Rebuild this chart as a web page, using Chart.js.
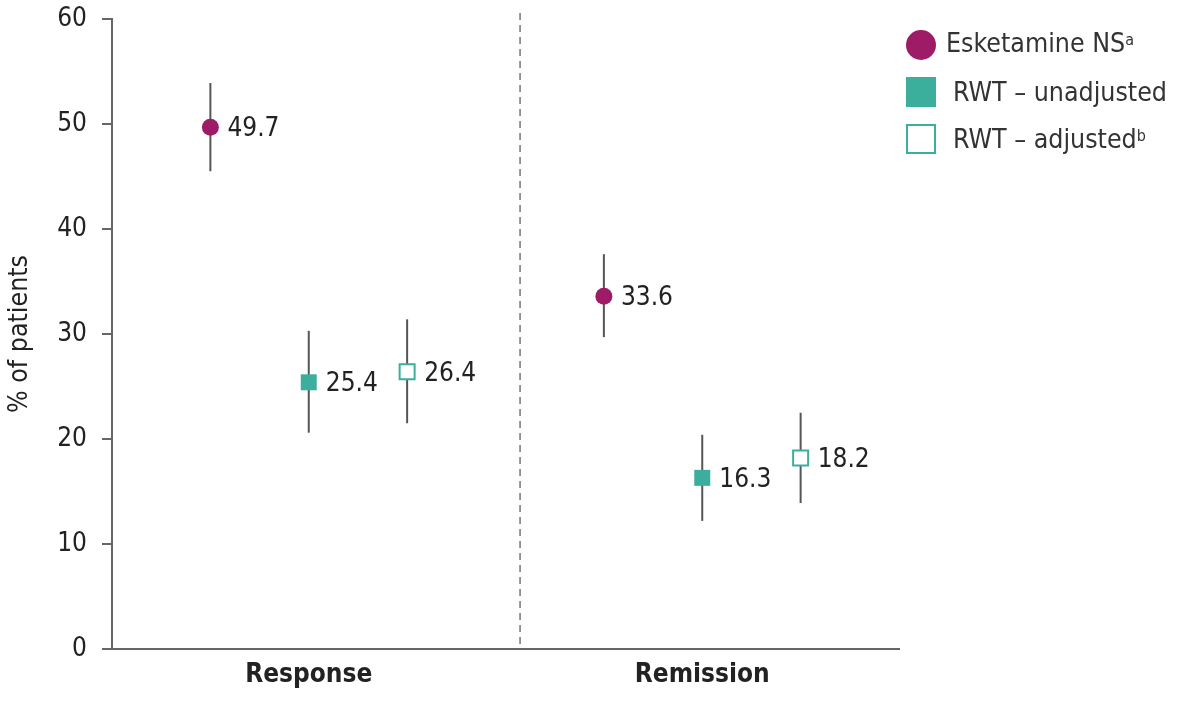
<!DOCTYPE html>
<html>
<head>
<meta charset="utf-8">
<script src="https://cdn.jsdelivr.net/npm/chart.js@4.4.0/dist/chart.umd.min.js"></script>
<style>
  html, body { margin: 0; padding: 0; background: #fff; }
  #wrap { position: relative; width: 1181px; height: 704px; }
  #legend { position: absolute; left: 0; top: 0; font-family: "DejaVu Sans Condensed", "DejaVu Sans", sans-serif; font-size: 26.5px; color: #333; }
  .item { position: absolute; white-space: nowrap; line-height: 30px; }
  .item sup { font-size: 16px; vertical-align: 7px; line-height: 0; }
  .mk { position: absolute; box-sizing: border-box; }
</style>
</head>
<body>
<div id="wrap">
  <canvas id="chart" width="1181" height="704"></canvas>
  <div id="legend">
    <div class="mk" style="left:906px; top:30px; width:30px; height:30px; border-radius:50%; background:#9e1b67;"></div>
    <div class="item" style="left:946px; top:28px;">Esketamine NS<sup>a</sup></div>
    <div class="mk" style="left:906px; top:77px; width:30px; height:30px; background:#3bae9c;"></div>
    <div class="item" style="left:953px; top:77px;">RWT – unadjusted</div>
    <div class="mk" style="left:906px; top:124px; width:30px; height:30px; border:2px solid #3bae9c; background:#fff;"></div>
    <div class="item" style="left:953px; top:124px;">RWT – adjusted<sup>b</sup></div>
  </div>
</div>
<script>
// Datos
const categories = ["Response", "Remission"];
const esketamine = [49.7, 33.6];
const esketamineLow = [45.5, 29.7];
const esketamineHigh = [53.9, 37.6];
const rwtUnadj = [25.4, 16.3];
const rwtUnadjLow = [20.6, 12.2];
const rwtUnadjHigh = [30.3, 20.4];
const rwtAdj = [26.4, 18.2];
const rwtAdjLow = [21.5, 13.9];
const rwtAdjHigh = [31.4, 22.5];
const yTicks = [0, 10, 20, 30, 40, 50, 60];

const FONT = '"DejaVu Sans Condensed", "DejaVu Sans", sans-serif';
const dividerAt = 1.537; // entre las dos categorias

const points = (vals, off) => vals.map((v, i) => ({ x: i + 1 + off, y: v }));

// Barras de error (debajo de los marcadores)
const errorBars = {
  id: "errorBars",
  beforeDatasetsDraw(chart) {
    const { ctx, scales: { x, y }, chartArea } = chart;
    ctx.save();
    // linea divisoria punteada
    const dx = x.getPixelForValue(dividerAt);
    ctx.strokeStyle = "#777";
    ctx.lineWidth = 1.5;
    ctx.setLineDash([7, 5]);
    ctx.beginPath();
    ctx.moveTo(dx, chartArea.top - 6);
    ctx.lineTo(dx, chartArea.bottom);
    ctx.stroke();
    ctx.setLineDash([]);

    ctx.strokeStyle = "#555";
    ctx.lineWidth = 2;
    chart.data.datasets.forEach((ds, di) => {
      const meta = chart.getDatasetMeta(di);
      meta.data.forEach((pt, i) => {
        ctx.beginPath();
        ctx.moveTo(pt.x, y.getPixelForValue(ds.low[i]));
        ctx.lineTo(pt.x, y.getPixelForValue(ds.high[i]));
        ctx.stroke();
      });
    });
    ctx.restore();
  },
  afterDatasetsDraw(chart) {
    const { ctx } = chart;
    ctx.save();
    ctx.font = "26px " + FONT;
    ctx.fillStyle = "#222";
    ctx.textAlign = "left";
    ctx.textBaseline = "middle";
    chart.data.datasets.forEach((ds, di) => {
      const meta = chart.getDatasetMeta(di);
      meta.data.forEach((pt, i) => {
        ctx.fillText(ds.data[i].y.toFixed(1), pt.x + 17, pt.y + 2);
      });
    });
    ctx.restore();
  },
};

new Chart(document.getElementById("chart").getContext("2d"), {
  type: "scatter",
  data: {
    datasets: [
      {
        label: "Esketamine NS",
        data: points(esketamine, -0.25),
        low: esketamineLow,
        high: esketamineHigh,
        pointStyle: "circle",
        pointRadius: 8.5,
        backgroundColor: "#9e1b67",
        borderWidth: 0,
      },
      {
        label: "RWT – unadjusted",
        data: points(rwtUnadj, 0),
        low: rwtUnadjLow,
        high: rwtUnadjHigh,
        pointStyle: "rect",
        pointRadius: 11.3,
        backgroundColor: "#3bae9c",
        borderWidth: 0,
      },
      {
        label: "RWT – adjusted",
        data: points(rwtAdj, 0.25),
        low: rwtAdjLow,
        high: rwtAdjHigh,
        pointStyle: "rect",
        pointRadius: 10.6,
        backgroundColor: "#fff",
        borderColor: "#3bae9c",
        borderWidth: 2,
      },
    ],
  },
  options: {
    responsive: false,
    animation: false,
    layout: { padding: { top: 19, right: 282, left: 0, bottom: 0 } },
    plugins: {
      legend: { display: false },
      tooltip: { enabled: false },
    },
    scales: {
      x: {
        type: "linear",
        min: 0.5,
        max: 2.5,
        afterBuildTicks: (axis) => {
          axis.ticks = categories.map((c, i) => ({ value: i + 1 }));
        },
        afterFit: (axis) => {
          axis.height = 55;
          axis.paddingLeft = 0;
          axis.paddingRight = 0;
        },
        grid: { display: false, drawTicks: false },
        border: { display: true, color: "#666", width: 2 },
        ticks: {
          padding: 11,
          color: "#222",
          font: { family: FONT, size: 26, weight: "bold" },
          callback: (v) => categories[v - 1],
        },
      },
      y: {
        min: 0,
        max: 60,
        afterBuildTicks: (axis) => {
          axis.ticks = yTicks.map((v) => ({ value: v }));
        },
        afterFit: (axis) => {
          axis.width = 112;
          axis.paddingTop = 0;
          axis.paddingBottom = 0;
        },
        grid: { drawOnChartArea: false, drawTicks: true, tickLength: 10, color: "#666", lineWidth: 2 },
        border: { display: true, color: "#666", width: 2 },
        ticks: {
          padding: 15,
          color: "#222",
          font: { family: FONT, size: 26 },
        },
        title: {
          display: true,
          text: "% of patients",
          color: "#222",
          padding: { top: 4, bottom: 0 },
          font: { family: FONT, size: 26.5 },
        },
      },
    },
  },
  plugins: [errorBars],
});
</script>
</body>
</html>
